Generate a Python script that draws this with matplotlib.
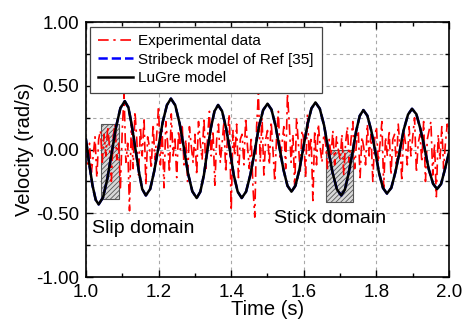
import matplotlib
matplotlib.use('Agg')
import matplotlib.pyplot as plt
from matplotlib.patches import Rectangle
from matplotlib.ticker import MultipleLocator
import numpy as np

plt.rcParams['font.family'] = ['Liberation Sans', 'DejaVu Sans']
plt.rcParams['hatch.linewidth'] = 0.6

# Experimental velocity, sampled every 5 ms from 1.0 s to 2.0 s
exp_time = np.linspace(1.0, 2.0, 201)
exp_velocity = [
    0.02, -0.12, 0.05, -0.18, -0.05, 0.10, -0.22, 0.08, 0.15, -0.10,
    0.12, -0.05, 0.18, 0.02, -0.25, 0.10, 0.20, -0.08, 0.05, -0.30,
    0.15, 0.44, -0.10, 0.05, -0.48, 0.22, -0.15, 0.30, 0.08, -0.20,
    0.18, -0.05, 0.25, -0.28, 0.10, 0.02, -0.15, 0.20, -0.08, 0.12,
    0.34, -0.12, 0.15, -0.30, 0.22, 0.05, -0.18, 0.28, -0.05, 0.10,
    -0.22, 0.15, 0.00, 0.20, -0.12, 0.08, -0.25, 0.18, 0.03, -0.10,
    0.12, -0.20, 0.22, 0.05, -0.08, 0.25, -0.15, 0.10, 0.30, -0.05,
    0.15, -0.28, 0.08, 0.20, -0.10, 0.05, 0.22, -0.18, 0.12, 0.28,
    -0.48, 0.15, -0.05, 0.20, -0.22, 0.08, 0.12, -0.12, 0.25, 0.02,
    -0.15, 0.10, -0.30, -0.53, 0.18, 0.44, -0.10, 0.25, -0.20, 0.08,
    0.15, -0.12, 0.22, 0.00, -0.25, 0.10, 0.30, -0.08, 0.05, 0.18,
    -0.15, 0.44, 0.20, -0.10, 0.12, -0.30, 0.25, 0.05, -0.18, 0.15,
    0.08, -0.22, 0.28, -0.05, 0.10, -0.40, 0.15, -0.12, 0.20, 0.02,
    -0.10, 0.12, 0.05, -0.15, 0.08, -0.05, 0.15, -0.12, 0.10, 0.00,
    -0.08, 0.12, -0.20, 0.05, 0.18, -0.10, 0.08, 0.22, -0.15, 0.05,
    0.15, -0.22, 0.10, 0.02, -0.12, 0.20, -0.05, 0.12, -0.25, 0.08,
    0.18, -0.10, 0.05, 0.22, -0.30, 0.10, -0.05, 0.15, -0.20, 0.08,
    0.12, -0.15, 0.20, 0.02, -0.25, 0.15, 0.05, -0.12, 0.18, -0.05,
    0.10, 0.25, -0.18, 0.05, 0.12, -0.10, 0.22, -0.25, 0.08, 0.15,
    0.22, -0.20, 0.05, -0.37, 0.12, -0.08, 0.18, -0.15, 0.05, 0.20,
    0.10,
]

# Model response (LuGre); the Stribeck model of Ref [35] lies on top of it
model_time = [
    1.000, 1.009, 1.018, 1.027,
    1.035, 1.047, 1.059, 1.071, 1.083, 1.095,
    1.107, 1.117, 1.126, 1.136, 1.146, 1.155,
    1.165, 1.177, 1.188, 1.200, 1.211, 1.223,
    1.234, 1.246, 1.258, 1.270, 1.281, 1.293,
    1.305, 1.315, 1.325, 1.334, 1.344, 1.354,
    1.364, 1.375, 1.386, 1.397, 1.407, 1.418,
    1.429, 1.441, 1.453, 1.465, 1.476, 1.488,
    1.500, 1.511, 1.522, 1.533, 1.544, 1.555,
    1.566, 1.577, 1.588, 1.599, 1.610, 1.621,
    1.632, 1.644, 1.656, 1.667, 1.679, 1.691,
    1.703, 1.713, 1.723, 1.734, 1.744, 1.754,
    1.764, 1.775, 1.786, 1.797, 1.807, 1.818,
    1.829, 1.841, 1.852, 1.864, 1.875, 1.887,
    1.898, 1.910, 1.921, 1.933, 1.944, 1.956,
    1.967, 1.978, 1.989, 2.000,
]
lugre_velocity = [
    0.08, -0.11, -0.28, -0.395,
    -0.43, -0.376, -0.228, -0.025, 0.178, 0.326,
    0.38, 0.330, 0.195, 0.010, -0.175, -0.310,
    -0.36, -0.309, -0.170, 0.020, 0.210, 0.349,
    0.40, 0.348, 0.205, 0.010, -0.185, -0.328,
    -0.38, -0.331, -0.198, -0.015, 0.168, 0.301,
    0.35, 0.301, 0.168, -0.015, -0.198, -0.331,
    -0.38, -0.330, -0.195, -0.010, 0.175, 0.310,
    0.36, 0.314, 0.188, 0.015, -0.158, -0.284,
    -0.33, -0.283, -0.155, 0.020, 0.195, 0.323,
    0.37, 0.321, 0.188, 0.005, -0.178, -0.311,
    -0.36, -0.315, -0.193, -0.025, 0.143, 0.265,
    0.31, 0.266, 0.146, -0.018, -0.181, -0.301,
    -0.345, -0.300, -0.179, -0.013, 0.154, 0.275,
    0.32, 0.278, 0.163, 0.005, -0.153, -0.268,
    -0.31, -0.27, -0.15, -0.02,
]
stribeck_velocity = lugre_velocity

# Hatched boxes: (t start, t end, v bottom, v top)
slip_box = (1.041, 1.091, -0.39, 0.20)
stick_box = (1.661, 1.736, -0.41, 0.00)

fig = plt.figure(figsize=(4.62, 3.21), dpi=100)
ax = fig.add_axes([0.186, 0.137, 0.786, 0.794])

for t0, t1, v0, v1 in (slip_box, stick_box):
    ax.add_patch(Rectangle((t0, v0), t1 - t0, v1 - v0, facecolor='#d8d8d8',
                           edgecolor='#555555', hatch='///////', linewidth=0.8,
                           zorder=1.5))

ax.plot(exp_time, exp_velocity, color='red', linestyle=(0, (6.4, 2.8, 1.4, 2.8)),
        linewidth=1.2, label='Experimental data', zorder=2)
ax.plot(model_time, stribeck_velocity, color='blue', linestyle='--',
        linewidth=1.8, label='Stribeck model of Ref [35]', zorder=3)
ax.plot(model_time, lugre_velocity, color='black', linewidth=1.8,
        solid_joinstyle='round', label='LuGre model', zorder=4)

ax.set_xlim(1.0, 2.0)
ax.set_ylim(-1.0, 1.0)
ax.xaxis.set_major_locator(MultipleLocator(0.2))
ax.xaxis.set_minor_locator(MultipleLocator(0.1))
ax.yaxis.set_major_locator(MultipleLocator(0.5))
ax.yaxis.set_minor_locator(MultipleLocator(0.25))
ax.xaxis.set_major_formatter(plt.FormatStrFormatter('%.1f'))
ax.yaxis.set_major_formatter(plt.FormatStrFormatter('%.2f'))

ax.xaxis.grid(True, which='major', linestyle=(0, (3, 3)), color='#a8a8a8', linewidth=0.8)
ax.yaxis.grid(True, which='both', linestyle=(0, (3, 3)), color='#a8a8a8', linewidth=0.8)
ax.set_axisbelow(True)

ax.tick_params(which='both', direction='in', top=True, right=True, width=1.0)
ax.tick_params(which='major', length=5, labelsize=13.5)
ax.tick_params(axis='x', which='major', pad=5)
ax.tick_params(axis='y', which='major', pad=5)
ax.tick_params(which='minor', length=3)
for s in ax.spines.values():
    s.set_linewidth(1.2)

ax.set_xlabel('Time (s)', fontsize=14.5, labelpad=-1)
ax.set_ylabel('Velocity (rad/s)', fontsize=14.5, labelpad=1)

ax.text(1.017, -0.655, 'Slip domain', fontsize=14, va='baseline', ha='left')
ax.text(1.519, -0.576, 'Stick domain', fontsize=14, va='baseline', ha='left')

leg = ax.legend(loc='upper left', bbox_to_anchor=(0.012, 0.982), fontsize=11,
                frameon=True, fancybox=False, edgecolor='#444444',
                framealpha=1.0, handlelength=2.3, handletextpad=0.35,
                labelspacing=0.28, borderpad=0.5, borderaxespad=0.0)
leg.get_frame().set_linewidth(0.9)

fig.savefig('out.png', dpi=100)
